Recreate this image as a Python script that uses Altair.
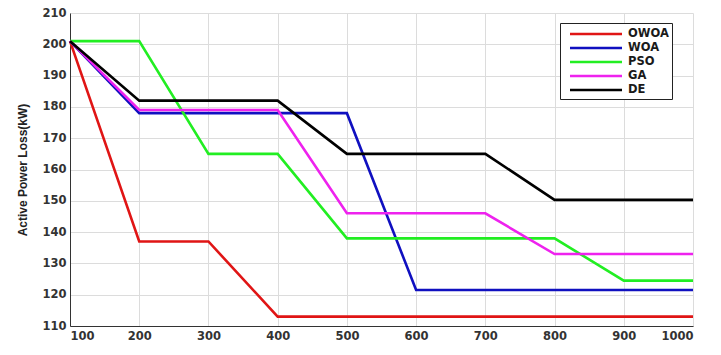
import altair as alt
import pandas as pd

iterations = [100, 200, 300, 400, 500, 600, 700, 800, 900, 1000]
owoa = [201, 137, 137, 113, 113, 113, 113, 113, 113, 113]
woa = [201, 178, 178, 178, 178, 121.5, 121.5, 121.5, 121.5, 121.5]
pso = [201, 201, 165, 165, 138, 138, 138, 138, 124.5, 124.5]
ga = [201, 179, 179, 179, 146, 146, 146, 133, 133, 133]
de = [201, 182, 182, 182, 165, 165, 165, 150.3, 150.3, 150.3]

series_names = ["OWOA", "WOA", "PSO", "GA", "DE"]
series_values = [owoa, woa, pso, ga, de]
series_colors = ["#e01515", "#1010c0", "#22ee22", "#ee22ee", "#000000"]

rows = []
for name, vals in zip(series_names, series_values):
    for it, v in zip(iterations, vals):
        rows.append({"Iteration": it, "Loss": v, "Algorithm": name})
df = pd.DataFrame(rows)

tick_font = "DejaVu Sans"
title_font = "Liberation Sans"

chart = (
    alt.Chart(df)
    .mark_line(strokeWidth=2.6)
    .encode(
        x=alt.X(
            "Iteration:Q",
            scale=alt.Scale(domain=[100, 1000], nice=False, zero=False),
            axis=alt.Axis(
                values=iterations,
                format="d",
                title="Iteration",
                titleFont=tick_font,
                titleFontSize=12,
                titleY=19,
                labelPadding=4,
            ),
        ),
        y=alt.Y(
            "Loss:Q",
            scale=alt.Scale(domain=[110, 210], nice=False, zero=False),
            axis=alt.Axis(
                values=list(range(110, 211, 10)),
                title="Active Power Loss(kW)",
                titleFont=title_font,
                titleFontSize=12,
                titlePadding=12,
                labelPadding=4,
            ),
        ),
        color=alt.Color(
            "Algorithm:N",
            scale=alt.Scale(domain=series_names, range=series_colors),
            legend=alt.Legend(
                title=None,
                orient="none",
                legendX=490,
                legendY=10,
                # long horizontal stroke drawn as a custom path
                symbolType="M-4,0H4",
                symbolSize=169,
                symbolStrokeWidth=2.5,
                symbolOffset=25,
                labelFont=tick_font,
                labelFontWeight="bold",
                labelFontSize=11.5,
                labelColor="#1a1a1a",
                labelOffset=24,
                rowPadding=-1,
                strokeColor="#222",
                padding=3,
                fillColor="white",
            ),
        ),
        order=alt.Order("Iteration:Q"),
    )
    .properties(
        width=623,
        height=313,
        autosize=alt.AutoSizeParams(type="none"),
        padding={"left": 70, "top": 13, "right": 28, "bottom": 16},
    )
    .configure_view(stroke=None)
    .configure_axis(
        labelFont=tick_font,
        labelFontWeight="bold",
        labelFontSize=11.5,
        labelColor="#333",
        titleFontWeight="bold",
        titleColor="#222",
        gridColor="#dcdcdc",
        gridWidth=1,
        domainColor="#333",
        ticks=False,
    )
)

chart.save("out.html", embed_options={"renderer": "svg", "actions": False})
